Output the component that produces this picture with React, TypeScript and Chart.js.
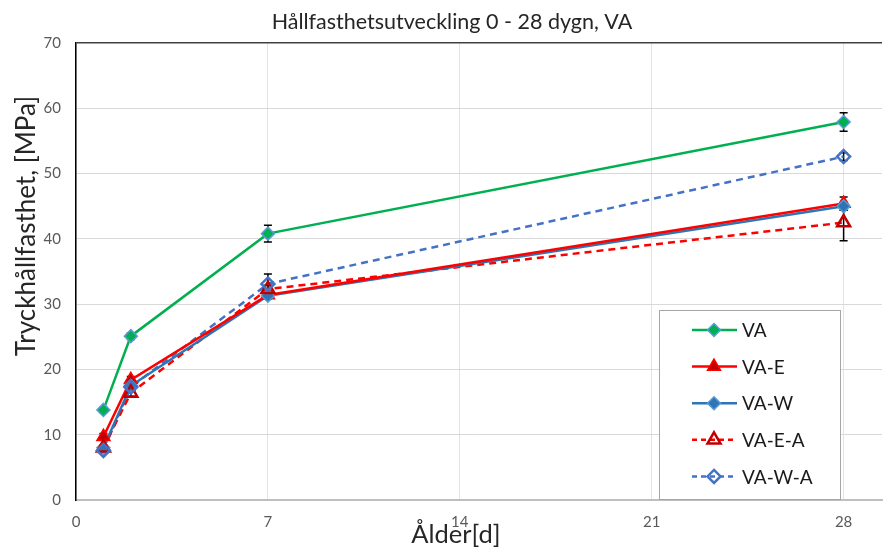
import React, { useEffect, useRef } from "react";
import { Chart, registerables } from "chart.js";

Chart.register(...registerables);

// Age in days and compressive strength [MPa] per mix
const days = [1, 2, 7, 28];
const vaValues = [13.8, 25.1, 40.8, 57.9];
const vaErr = [0.4, 0.5, 1.3, 1.4];
const vaEValues = [9.7, 18.4, 31.4, 45.4];
const vaEErr = [0.5, 0.5, 0.6, 1.0];
const vaWValues = [8.0, 17.5, 31.3, 45.0];
const vaWErr = [0.4, 0.5, 0.5, 0.6];
const vaEAValues = [8.0, 16.4, 32.3, 42.5];
const vaEAErr = [0.4, 0.5, 0.6, 2.8];
const vaWAValues = [7.6, 17.3, 33.1, 52.6];
const vaWAErr = [0.4, 0.4, 1.5, 0.6];

const xTickValues = [0, 7, 14, 21, 28];
const yTickValues = [0, 10, 20, 30, 40, 50, 60, 70];

const chartTitle = "Hållfasthetsutveckling 0 - 28 dygn, VA";
const xTitle = "Ålder[d]";
const yTitle = "Tryckhållfasthet, [MPa]";

const FONT = "Lato, 'Open Sans', sans-serif";

type Series = {
  label: string;
  values: number[];
  errors: number[];
  line: string;
  fill: string;
  stroke: string;
  shape: "diamond" | "triangle";
  dashed: boolean;
  open: boolean;
};

const series: Series[] = [
  { label: "VA", values: vaValues, errors: vaErr, line: "#00b050", fill: "#00b050", stroke: "#5b9bd5", shape: "diamond", dashed: false, open: false },
  { label: "VA-E", values: vaEValues, errors: vaEErr, line: "#ff0000", fill: "#c00000", stroke: "#ff0000", shape: "triangle", dashed: false, open: false },
  { label: "VA-W", values: vaWValues, errors: vaWErr, line: "#2e75b6", fill: "#2e75b6", stroke: "#5b9bd5", shape: "diamond", dashed: false, open: false },
  { label: "VA-E-A", values: vaEAValues, errors: vaEAErr, line: "#ff0000", fill: "rgba(0,0,0,0)", stroke: "#c00000", shape: "triangle", dashed: true, open: true },
  { label: "VA-W-A", values: vaWAValues, errors: vaWAErr, line: "#4472c4", fill: "rgba(0,0,0,0)", stroke: "#4472c4", shape: "diamond", dashed: true, open: true },
];

const DASH = [7, 5];

function drawMarker(ctx: CanvasRenderingContext2D, s: Series, x: number, y: number) {
  ctx.save();
  ctx.beginPath();
  if (s.shape === "diamond") {
    const r = 6.5;
    ctx.moveTo(x, y - r);
    ctx.lineTo(x + r, y);
    ctx.lineTo(x, y + r);
    ctx.lineTo(x - r, y);
  } else {
    const r = 7.5;
    ctx.moveTo(x, y - r);
    ctx.lineTo(x + r * Math.sin((2 * Math.PI) / 3), y + r / 2);
    ctx.lineTo(x - r * Math.sin((2 * Math.PI) / 3), y + r / 2);
  }
  ctx.closePath();
  ctx.setLineDash([]);
  if (!s.open) {
    ctx.fillStyle = s.fill;
    ctx.fill();
  }
  ctx.lineWidth = s.open ? 2.5 : 1.5;
  ctx.strokeStyle = s.stroke;
  ctx.stroke();
  ctx.restore();
}

const errorBarPlugin = {
  id: "errorBars",
  beforeDatasetsDraw(chart: any) {
    const { ctx } = chart;
    const xs = chart.scales.x;
    const ys = chart.scales.y;
    ctx.save();
    ctx.strokeStyle = "#000000";
    ctx.lineWidth = 1.5;
    ctx.setLineDash([]);
    series.forEach((s) => {
      s.values.forEach((v, i) => {
        const e = s.errors[i];
        const px = xs.getPixelForValue(days[i]);
        const top = ys.getPixelForValue(v + e);
        const bot = ys.getPixelForValue(v - e);
        ctx.beginPath();
        ctx.moveTo(px, top);
        ctx.lineTo(px, bot);
        ctx.moveTo(px - 4, top);
        ctx.lineTo(px + 4, top);
        ctx.moveTo(px - 4, bot);
        ctx.lineTo(px + 4, bot);
        ctx.stroke();
      });
    });
    ctx.restore();
  },
};

const markerPlugin = {
  id: "markers",
  afterDatasetsDraw(chart: any) {
    const { ctx } = chart;
    series.forEach((s, di) => {
      const meta = chart.getDatasetMeta(di);
      meta.data.forEach((pt: any) => drawMarker(ctx, s, pt.x, pt.y));
    });
  },
};

const textPlugin = {
  id: "texts",
  afterDraw(chart: any) {
    const { ctx, chartArea } = chart;
    ctx.save();
    // chart title
    ctx.fillStyle = "#262626";
    ctx.font = `21.5px ${FONT}`;
    ctx.textAlign = "center";
    ctx.textBaseline = "middle";
    ctx.fillText(chartTitle, 452, 22);
    // x axis title
    ctx.fillStyle = "#262626";
    ctx.font = `25.5px ${FONT}`;
    ctx.fillText(xTitle, 456, 535);
    // y axis title
    ctx.font = `26px ${FONT}`;
    ctx.translate(27, 226);
    ctx.rotate(-Math.PI / 2);
    ctx.fillText(yTitle, 0, 0);
    ctx.restore();

    // legend box
    const bx = chartArea.right - 223;
    const by = 310;
    const bw = 181;
    const bh = chartArea.bottom - by - 1;
    ctx.save();
    ctx.fillStyle = "#ffffff";
    ctx.fillRect(bx, by, bw, bh);
    ctx.strokeStyle = "#a6a6a6";
    ctx.lineWidth = 1;
    ctx.strokeRect(bx + 0.5, by + 0.5, bw, bh);
    ctx.font = `19px ${FONT}`;
    ctx.textAlign = "left";
    ctx.textBaseline = "middle";
    series.forEach((s, i) => {
      const y = by + 20 + i * 36.6;
      ctx.beginPath();
      ctx.strokeStyle = s.line;
      ctx.lineWidth = 2.5;
      ctx.setLineDash(s.dashed ? [5, 4] : []);
      ctx.moveTo(bx + 33, y);
      ctx.lineTo(bx + 78, y);
      ctx.stroke();
      drawMarker(ctx, s, bx + 55, y);
      ctx.fillStyle = "#1a1a1a";
      ctx.fillText(s.label, bx + 83, y + 1);
    });
    ctx.restore();
  },
};

export default function App() {
  const canvasRef = useRef<HTMLCanvasElement | null>(null);

  useEffect(() => {
    if (!canvasRef.current) return;
    const chart = new Chart(canvasRef.current, {
      type: "scatter",
      data: {
        datasets: series.map((s) => ({
          label: s.label,
          data: s.values.map((v, i) => ({ x: days[i], y: v })),
          showLine: true,
          borderColor: s.line,
          borderWidth: 2.5,
          borderDash: s.dashed ? DASH : [],
          pointRadius: 0,
          pointHoverRadius: 0,
          backgroundColor: s.fill,
        })),
      },
      options: {
        animation: false,
        responsive: false,
        devicePixelRatio: 1,
        layout: { padding: { left: 0, top: 43, right: 4, bottom: 0 } },
        plugins: {
          legend: { display: false },
          title: { display: false },
          tooltip: { enabled: false },
        },
        scales: {
          x: {
            type: "linear",
            min: 0,
            max: 29.4,
            afterBuildTicks: (scale: any) => {
              scale.ticks = xTickValues.map((v) => ({ value: v }));
            },
            afterFit: (scale: any) => {
              scale.height = 49;
            },
            grid: { color: "#e3e3e3", lineWidth: 1, drawTicks: false },
            border: { color: "#bfbfbf", width: 2 },
            ticks: {
              color: "#595959",
              font: { family: FONT, size: 15 },
              padding: 13,
              maxRotation: 0,
            },
          },
          y: {
            type: "linear",
            min: 0,
            max: 70,
            afterBuildTicks: (scale: any) => {
              scale.ticks = yTickValues.map((v) => ({ value: v }));
            },
            afterFit: (scale: any) => {
              scale.width = 76;
            },
            grid: {
              color: (c: any) => (c.tick && c.tick.value === 70 ? "#404040" : "#d9d9d9"),
              lineWidth: (c: any) => (c.tick && c.tick.value === 70 ? 1.5 : 1),
              drawTicks: false,
            },
            border: { color: "#000000", width: 1.5 },
            ticks: {
              color: "#595959",
              font: { family: FONT, size: 15 },
              padding: 15,
            },
          },
        },
      },
      plugins: [errorBarPlugin, markerPlugin, textPlugin],
    });
    return () => chart.destroy();
  }, []);

  return (
    <div style={{ position: "absolute", left: 0, top: 0, width: 886, height: 549, background: "#ffffff" }}>
      <canvas ref={canvasRef} width={886} height={549} />
    </div>
  );
}
